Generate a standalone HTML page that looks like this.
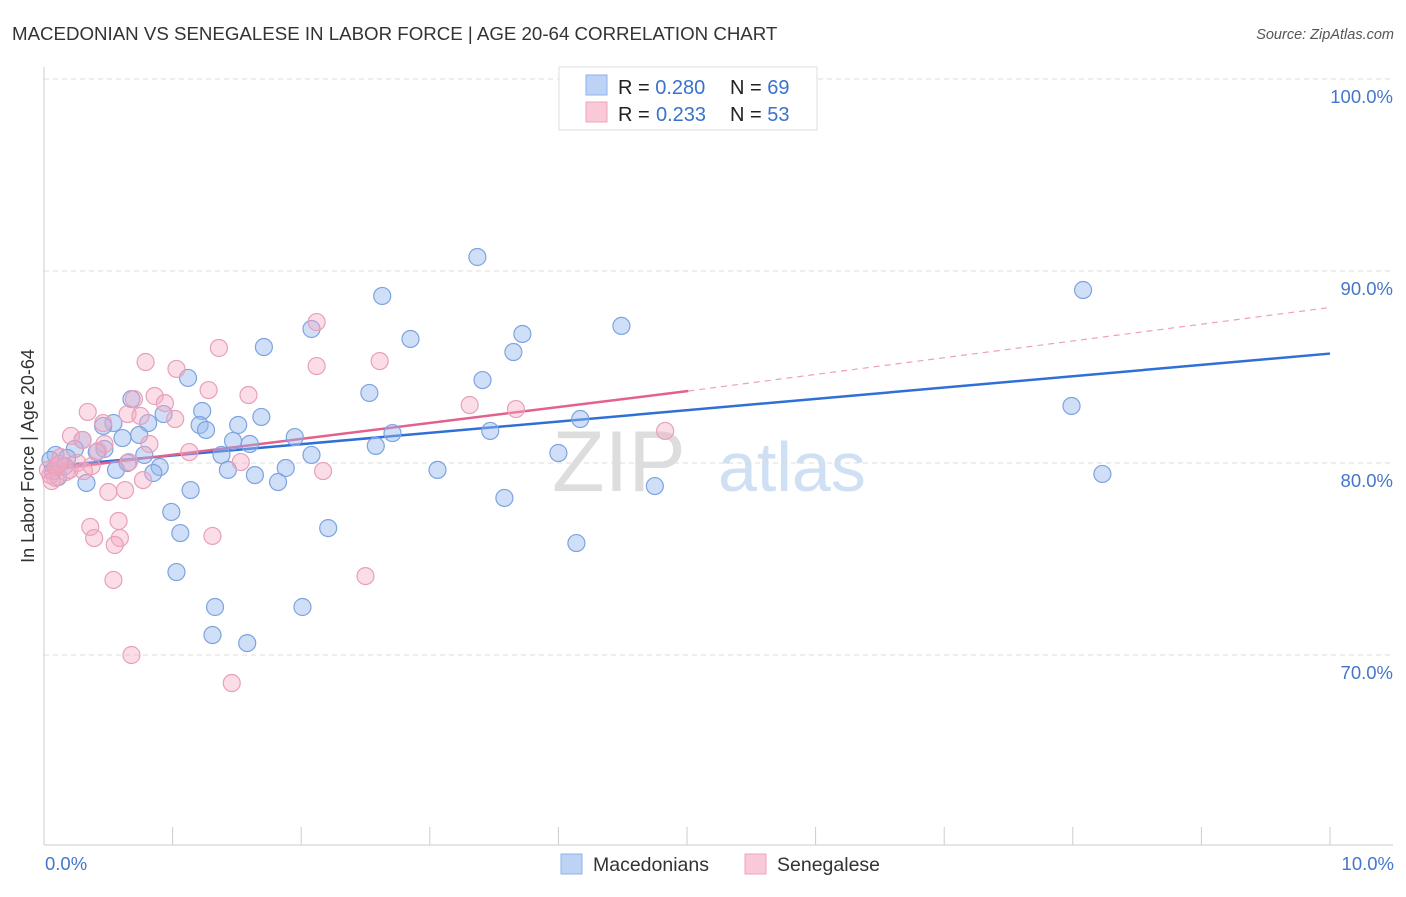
<!DOCTYPE html>
<html><head><meta charset="utf-8"><style>
body{margin:0;background:#fff;font-family:"Liberation Sans",sans-serif;}
svg text{font-family:"Liberation Sans",sans-serif;}
</style></head><body>
<svg id="chart" width="1406" height="892" xmlns="http://www.w3.org/2000/svg">
<text x="12" y="40" font-size="18.7" fill="#333">MACEDONIAN VS SENEGALESE IN LABOR FORCE | AGE 20-64 CORRELATION CHART</text>
<text x="1394" y="39" font-size="14.5" fill="#555" font-style="italic" text-anchor="end">Source: ZipAtlas.com</text>
<g><text x="552" y="491" font-size="86" fill="#ddd" font-family="Liberation Serif">ZIP</text><text x="718" y="491" font-size="70" fill="#cfe0f4">atlas</text></g>
<g id="grid"></g><g id="axes"></g><g id="lines"></g><g id="pts"></g>
<text transform="translate(34,456) rotate(-90)" font-size="18" fill="#333" text-anchor="middle">In Labor Force | Age 20-64</text>
<text x="45" y="870" font-size="18.5" fill="#4477cc">0.0%</text>
<text x="1394" y="870" font-size="18.5" fill="#4477cc" text-anchor="end">10.0%</text>
<g>
<rect x="559" y="67" width="258" height="63" fill="#fff" stroke="#ddd"/>
<rect x="586" y="75" width="21" height="20" fill="#bcd3f5" stroke="#8fb0e6"/>
<rect x="586" y="102" width="21" height="20" fill="#f9c9d7" stroke="#eea3bb"/>
<text x="618" y="94" font-size="20" fill="#222">R = <tspan fill="#3a72cc">0.280</tspan><tspan x="730">N = </tspan><tspan fill="#3a72cc">69</tspan></text>
<text x="618" y="121" font-size="20" fill="#222">R = <tspan x="656" fill="#3a72cc">0.233</tspan><tspan x="730">N = </tspan><tspan fill="#3a72cc">53</tspan></text>
</g>
<g>
<rect x="561" y="854" width="21" height="20" fill="#bcd3f5" stroke="#8fb0e6"/>
<text x="593" y="871" font-size="19.5" fill="#333">Macedonians</text>
<rect x="745" y="854" width="21" height="20" fill="#f9c9d7" stroke="#eea3bb"/>
<text x="777" y="871" font-size="19.5" fill="#333">Senegalese</text>
</g>
</svg>
<script>
const yTicks=[100,90,80,70];
const yTickLabels=["100.0%","90.0%","80.0%","70.0%"];
const xTicks=[0,1,2,3,4,5,6,7,8,9,10];
const blueX=[3.37,8.08,2.63,4.49,2.08,3.72,2.85,1.71,3.65,1.12,3.41,2.53,7.99,0.68,1.23,1.69,0.93,4.17,0.54,1.51,1.21,1.26,0.46,0.81,3.47,2.71,1.95,0.74,0.61,0.30,1.47,1.60,2.58,0.24,0.47,0.41,0.78,2.08,4.00,1.38,0.09,0.18,0.05,0.65,0.90,3.06,1.88,0.56,1.43,1.64,0.85,8.23,0.16,0.07,1.82,0.33,1.14,4.75,3.58,0.99,2.21,1.06,4.14,1.03,1.33,2.01,1.31,1.58,0.11];
const blueY=[90.73,89.01,88.70,87.14,86.98,86.72,86.46,86.04,85.78,84.43,84.32,83.65,82.97,83.33,82.71,82.40,82.55,82.29,82.08,81.98,81.98,81.72,81.93,82.08,81.67,81.56,81.35,81.46,81.30,81.20,81.15,80.99,80.89,80.73,80.73,80.57,80.42,80.42,80.52,80.42,80.42,80.26,80.16,80.00,79.79,79.64,79.74,79.64,79.64,79.37,79.48,79.43,79.84,79.58,79.01,78.96,78.59,78.80,78.18,77.45,76.61,76.35,75.83,74.32,72.50,72.50,71.04,70.62,79.27];
const pinkX=[2.12,1.36,0.79,2.61,2.12,1.03,1.28,1.59,0.70,0.86,0.94,3.31,3.67,0.34,0.65,0.75,1.02,4.83,0.46,0.21,0.82,1.13,0.30,0.42,0.47,0.13,1.53,0.66,2.17,0.26,0.37,0.17,0.77,0.63,0.50,0.09,0.05,0.36,0.58,0.39,0.59,0.55,1.31,0.54,2.50,0.68,1.46,0.03,0.09,0.20,0.31,0.12,0.06];
const pinkY=[87.34,85.99,85.26,85.31,85.05,84.90,83.80,83.54,83.33,83.49,83.12,83.02,82.81,82.66,82.55,82.45,82.29,81.67,82.08,81.41,80.99,80.57,81.20,80.62,80.99,80.31,80.05,80.05,79.58,80.00,79.84,79.53,79.11,78.59,78.49,79.22,79.37,76.67,76.98,76.09,76.09,75.73,76.20,73.91,74.11,70.00,68.54,79.64,79.79,79.64,79.58,79.95,79.06];
const blueTrend=[[0,79.8],[10,85.7]];
const pinkTrend=[[0,79.6],[5.01,83.75]];
const pinkTrendExt=[[5.01,83.75],[10,88.1]];
const NS="http://www.w3.org/2000/svg";
const xs=v=>44+v*128.6, ys=v=>79+(100-v)*19.2;
function mk(p,t,a){const e=document.createElementNS(NS,t);for(const k in a)e.setAttribute(k,a[k]);document.getElementById(p).appendChild(e);return e;}
yTicks.forEach((t,i)=>{
 const g=mk('grid','line',{x1:44,x2:1393,y1:ys(t),y2:ys(t),stroke:'#ddd','stroke-dasharray':'5,4'});
 
 
 const l=mk('grid','text',{x:1393,y:ys(t)+24,'font-size':18.5,fill:'#4477cc','text-anchor':'end'});
 l.textContent=yTickLabels[i];
 
 
});
const ya=mk('axes','line',{x1:44,x2:44,y1:67,y2:845,stroke:'#ccc'});


const xa=mk('axes','line',{x1:44,x2:1393,y1:845,y2:845,stroke:'#ccc'});


xTicks.forEach(t=>{
 const k=mk('axes','line',{x1:xs(t),x2:xs(t),y1:827,y2:845,stroke:'#ccc'});
 
 
});
function pts(X,Y,fill,stroke,name){X.forEach((x,i)=>{
 const c=mk('pts','circle',{cx:xs(x),cy:ys(Y[i]),r:8.5,fill:fill,stroke:stroke,'stroke-width':1.2});
 
 
});}
pts(blueX,blueY,'rgba(150,185,240,0.45)','#7ea3df','macedonian-point');
pts(pinkX,pinkY,'rgba(245,170,195,0.4)','#e8a0b8','senegalese-point');
function ln(d,col,w,dash,name){const e=mk('lines','line',{x1:xs(d[0][0]),y1:ys(d[0][1]),x2:xs(d[1][0]),y2:ys(d[1][1]),stroke:col,'stroke-width':w});if(dash)e.setAttribute('stroke-dasharray',dash);
 
 }
ln(blueTrend,'#2f6fd6',2.5,null,'macedonian-trend-line');
ln(pinkTrend,'#e4608e',2.5,null,'senegalese-trend-line');
ln(pinkTrendExt,'#eea0b8',1.2,'6,5','senegalese-trend-extension');
</script>
</body></html>
